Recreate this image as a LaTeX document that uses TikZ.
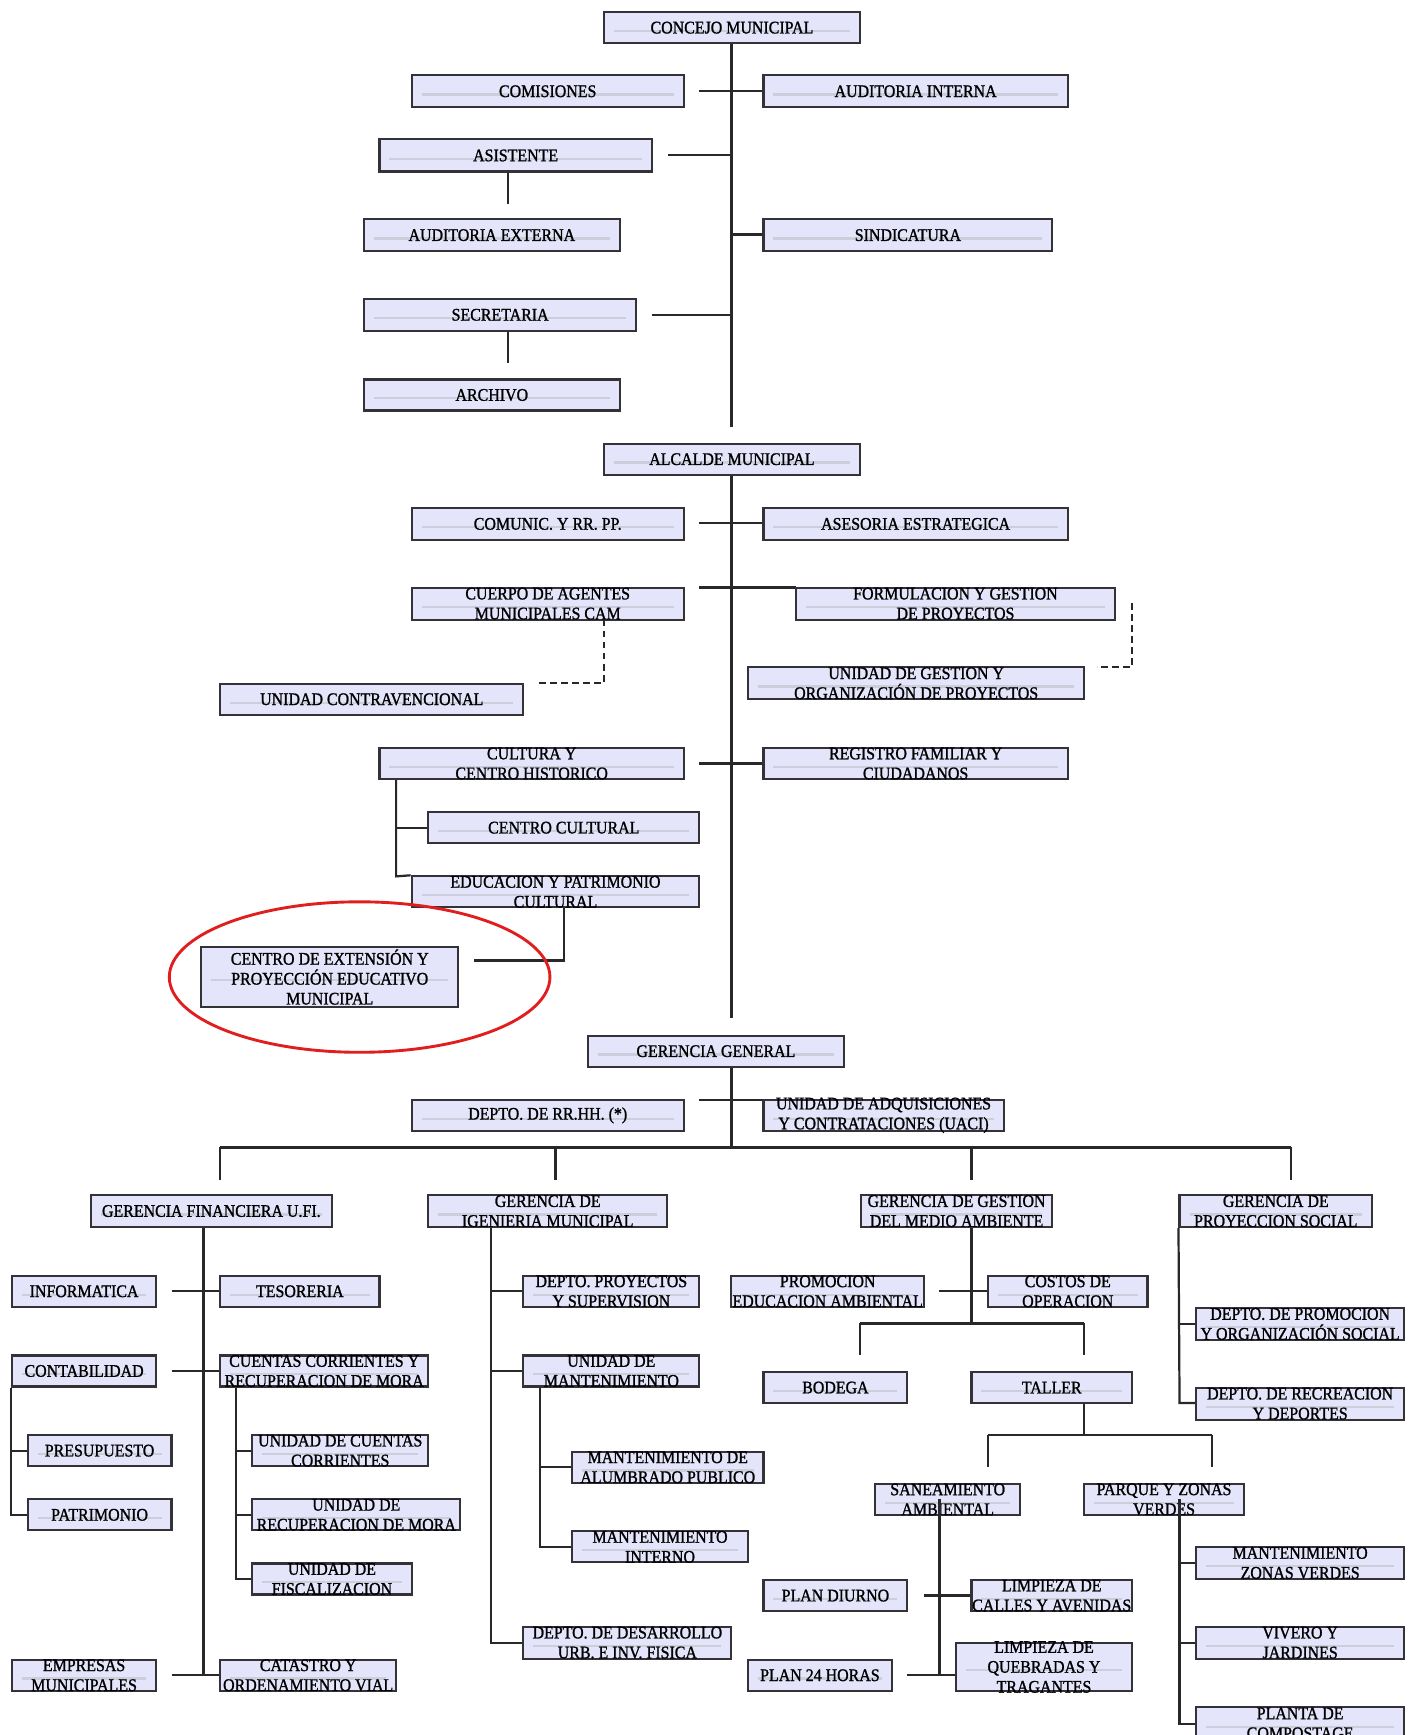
\documentclass[tikz,border=0pt]{standalone}
\usepackage{fontspec}
\newfontfamily\orgfont[FakeStretch=0.9,FakeBold=1.2]{Liberation Serif}
\definecolor{boxfill}{RGB}{228,228,250}
\definecolor{boxline}{RGB}{50,50,55}
\definecolor{stripe}{RGB}{205,205,220}
\definecolor{lnc}{RGB}{40,40,40}
\definecolor{ovalred}{RGB}{225,30,30}
\tikzset{
  box/.style={draw=boxline, line width=1.9pt, fill=boxfill, inner sep=0pt,
    path picture={\draw[stripe, line width=2pt]
      ([xshift=9pt,yshift=-3pt]path picture bounding box.west) --
      ([xshift=-9pt,yshift=-3pt]path picture bounding box.east);}},
  txt/.style={inner sep=0pt, align=center, text=black,
    font=\orgfont\fontsize{16}{18}\selectfont},
  ln/.style={draw=lnc, line width=2pt},
  dln/.style={ln, dash pattern=on 6pt off 4pt}
}
\newcommand{\orgbox}[6]{%
  \node[box, minimum width={(#4-#2)*1pt}, minimum height={(#5-#3)*1pt}] (#1) at ({(#2+#4)/2},{(#3+#5)/2}) {};
  \node[txt] (#1t) at (#1.center) {#6};}
\begin{document}
\begin{tikzpicture}[x=1pt,y=-1pt]
\useasboundingbox (0,0) rectangle (1282,1568);
\fill[white] (0,0) rectangle (1282,1568);
\clip (0,0) rectangle (1282,1568);

% ---------- coordinates for free ends / junctions ----------
\coordinate (m1) at (661,386);
\coordinate (j1) at (632,82);
\coordinate (j2) at (604,140);
\coordinate (j3) at (459,184);
\coordinate (j4) at (589,285);
\coordinate (j5) at (459,328);
\coordinate (m2) at (661,920);
\coordinate (k1) at (632,473);
\coordinate (k2) at (632,531);
\coordinate (k3) at (546,617);
\coordinate (k4) at (487,617);
\coordinate (k5) at (1023,545);
\coordinate (k6) at (1023,603);
\coordinate (k7) at (991,603);
\coordinate (k8) at (632,690);
\coordinate (k9) at (358,792);
\coordinate (k10) at (510,868);
\coordinate (k11) at (428,868);
\coordinate (b0) at (661,1037);
\coordinate (n1) at (632,994);
\coordinate (bL) at (199,1037);
\coordinate (bR) at (1167,1037);
\coordinate (d1) at (199,1066);
\coordinate (d2) at (502,1066);
\coordinate (d3) at (878,1066);
\coordinate (d4) at (1167,1066);
\coordinate (f0) at (184,1514);
\coordinate (f1) at (155,1167);
\coordinate (f2) at (155,1239);
\coordinate (f3) at (155,1514);
\coordinate (f4) at (213,1427);
\coordinate (e0) at (444,1485);
\coordinate (e1) at (488,1398);
\coordinate (a0) at (878,1196);
\coordinate (a1) at (849,1167);
\coordinate (a2) at (777,1196);
\coordinate (a3) at (980,1196);
\coordinate (a4) at (777,1225);
\coordinate (a5) at (980,1225);
\coordinate (t1) at (980,1297);
\coordinate (t2) at (893,1297);
\coordinate (t3) at (1095,1297);
\coordinate (t4) at (893,1326);
\coordinate (t5) at (1095,1326);
\coordinate (s0) at (849,1514);
\coordinate (s1) at (835,1442);
\coordinate (s2) at (820,1514);
\coordinate (p0) at (1066,1558);
\coordinate (q0) at (1066,1268);

% ---------- connectors (drawn first, boxes on top) ----------
\draw[ln] (661,39) coordinate (c0) -- (m1);
\draw[ln] (j1) -- (690,82) coordinate (c1);
\draw[ln] (j2) -- (j2 -| m1);
\draw[ln] (j4) -- (j4 -| m1);
\draw[ln] (661,212) coordinate (c2) -- (690,212) coordinate (c3);
\draw[ln] (661,429) coordinate (c4) -- (m2);
\draw[ln] (k1) -- (690,473) coordinate (c5);
\draw[ln] (k2) -- (719,531) coordinate (c6);
\draw[ln] (k8) -- (690,690) coordinate (c7);
\draw[dln] (546,560) coordinate (c8) -- (k3) -- (k4);
\draw[dln] (k5) -- (k6) -- (k7);
\draw[ln] (661,964) coordinate (c9) -- (b0);
\draw[ln] (n1) -- (690,994) coordinate (c10);
\draw[ln] (bL) -- (bR);
\draw[ln] (bL) -- (d1);
\draw[ln] (d2 |- bL) -- (d2);
\draw[ln] (d3 |- bL) -- (d3);
\draw[ln] (bR) -- (d4);

% ---------- boxes ----------
\orgbox{concejo}{546}{11}{777}{39}{CONCEJO MUNICIPAL}
\orgbox{comis}{372}{68}{618}{97}{COMISIONES}
\orgbox{audint}{690}{68}{965}{97}{AUDITORIA INTERNA}
\orgbox{asist}{343}{126}{589}{155}{ASISTENTE}
\orgbox{audext}{329}{198}{560}{227}{AUDITORIA EXTERNA}
\orgbox{sindic}{690}{198}{951}{227}{SINDICATURA}
\orgbox{secre}{329}{270}{575}{299}{SECRETARIA}
\orgbox{archivo}{329}{343}{560}{371}{ARCHIVO}
\orgbox{alcalde}{546}{401}{777}{429}{ALCALDE MUNICIPAL}
\orgbox{comunic}{372}{459}{618}{488}{COMUNIC. Y RR. PP.}
\orgbox{asesoria}{690}{459}{965}{488}{ASESORIA ESTRATEGICA}
\orgbox{cuerpo}{372}{531}{618}{560}{CUERPO DE AGENTES\\MUNICIPALES CAM}
\orgbox{formul}{719}{531}{1008}{560}{FORMULACION Y GESTION\\DE PROYECTOS}
\orgbox{contrav}{199}{618}{473}{646}{UNIDAD CONTRAVENCIONAL}
\orgbox{ugestion}{676}{603}{980}{632}{UNIDAD DE GESTION Y\\ORGANIZACIÓN DE PROYECTOS}
\orgbox{cultura}{343}{676}{618}{704}{CULTURA Y\\CENTRO HISTORICO}
\orgbox{registro}{690}{676}{965}{704}{REGISTRO FAMILIAR Y\\CIUDADANOS}
\orgbox{ccultural}{387}{734}{632}{762}{CENTRO CULTURAL}
\orgbox{educ}{372}{792}{632}{820}{EDUCACION Y PATRIMONIO\\CULTURAL}
\orgbox{cext}{182}{856}{414}{910}{CENTRO DE EXTENSIÓN Y\\PROYECCIÓN EDUCATIVO\\MUNICIPAL}
\orgbox{gergen}{531}{936}{763}{964}{GERENCIA GENERAL}
\orgbox{rrhh}{372}{994}{618}{1022}{DEPTO. DE RR.HH. (*)}
\orgbox{uaci}{690}{994}{907}{1022}{UNIDAD DE ADQUISICIONES\\Y CONTRATACIONES (UACI)}
\orgbox{gfin}{82}{1080}{300}{1109}{GERENCIA FINANCIERA U.FI.}
\orgbox{ging}{387}{1080}{603}{1109}{GERENCIA DE\\IGENIERIA MUNICIPAL}
\orgbox{gamb}{778}{1080}{951}{1109}{GERENCIA DE GESTION\\DEL MEDIO AMBIENTE}
\orgbox{gsoc}{1066}{1080}{1240}{1109}{GERENCIA DE\\PROYECCION SOCIAL}
\orgbox{inform}{11}{1153}{141}{1181}{INFORMATICA}
\orgbox{tesor}{199}{1153}{343}{1181}{TESORERIA}
\orgbox{contab}{11}{1225}{141}{1253}{CONTABILIDAD}
\orgbox{cuentas}{199}{1225}{387}{1253}{CUENTAS CORRIENTES Y\\RECUPERACION DE MORA}
\orgbox{presup}{25}{1297}{155}{1325}{PRESUPUESTO}
\orgbox{patrim}{25}{1355}{155}{1383}{PATRIMONIO}
\orgbox{ucc}{228}{1297}{387}{1325}{UNIDAD DE CUENTAS\\CORRIENTES}
\orgbox{urm}{228}{1355}{416}{1383}{UNIDAD DE\\RECUPERACION DE MORA}
\orgbox{ufisc}{228}{1413}{372}{1441}{UNIDAD DE\\FISCALIZACION}
\orgbox{empresas}{11}{1500}{141}{1528}{EMPRESAS\\MUNICIPALES}
\orgbox{catastro}{199}{1500}{358}{1528}{CATASTRO Y\\ORDENAMIENTO VIAL}
\orgbox{proyec}{473}{1153}{632}{1181}{DEPTO. PROYECTOS\\Y SUPERVISION}
\orgbox{umant}{473}{1225}{632}{1253}{UNIDAD DE\\MANTENIMIENTO}
\orgbox{malum}{517}{1312}{690}{1340}{MANTENIMIENTO DE\\ALUMBRADO PUBLICO}
\orgbox{mint}{517}{1384}{676}{1412}{MANTENIMIENTO\\INTERNO}
\orgbox{desarr}{473}{1470}{661}{1499}{DEPTO. DE DESARROLLO\\URB. E INV. FISICA}
\orgbox{promamb}{661}{1153}{835}{1181}{PROMOCION\\EDUCACION AMBIENTAL}
\orgbox{costos}{893}{1153}{1037}{1181}{COSTOS DE\\OPERACION}
\orgbox{bodega}{690}{1240}{820}{1268}{BODEGA}
\orgbox{taller}{878}{1240}{1023}{1268}{TALLER}
\orgbox{sanea}{791}{1341}{922}{1369}{SANEAMIENTO\\AMBIENTAL}
\orgbox{parque}{980}{1341}{1124}{1369}{PARQUE Y ZONAS\\VERDES}
\orgbox{diurno}{690}{1428}{820}{1456}{PLAN DIURNO}
\orgbox{lcalles}{878}{1428}{1023}{1456}{LIMPIEZA DE\\CALLES Y AVENIDAS}
\orgbox{plan24}{676}{1500}{806}{1528}{PLAN 24 HORAS}
\orgbox{lquebr}{864}{1485}{1023}{1528}{LIMPIEZA DE\\QUEBRADAS Y\\TRAGANTES}
\orgbox{promsoc}{1081}{1182}{1269}{1211}{DEPTO. DE PROMOCION\\Y ORGANIZACIÓN SOCIAL}
\orgbox{recre}{1081}{1254}{1269}{1283}{DEPTO. DE RECREACION\\Y DEPORTES}
\orgbox{mzv}{1081}{1398}{1269}{1427}{MANTENIMIENTO\\ZONAS VERDES}
\orgbox{vivero}{1081}{1470}{1269}{1499}{VIVERO Y\\JARDINES}
\orgbox{planta}{1081}{1543}{1269}{1572}{PLANTA DE\\COMPOSTAGE}

% ---------- connectors from boxes ----------
\draw[ln] (asist.south -| j3) -- (j3);
\draw[ln] (secre.south -| j5) -- (j5);
\draw[ln] (cultura.south -| k9) -- (k9) -- (educ.north west);
\draw[ln] (ccultural.west -| k9) -- (ccultural.west);
\draw[ln] (educ.south -| k10) -- (k10) -- (k11);
% finance
\draw[ln] (gfin.south -| f0) -- (f0) -- (catastro.west |- f0);
\draw[ln] (f1) -- (tesor.west);
\draw[ln] (f2) -- (cuentas.west);
\draw[ln] (f3) -- (f0);
\draw[ln] (contab.south west) -- (patrim.west -| contab.south west) -- (patrim.west);
\draw[ln] (presup.west -| contab.south west) -- (presup.west);
\draw[ln] (cuentas.south -| f4) -- (f4) -- (ufisc.west |- f4);
\draw[ln] (ucc.west -| f4) -- (ucc.west);
\draw[ln] (urm.west -| f4) -- (urm.west);
% engineering
\draw[ln] (ging.south -| e0) -- (e0) -- (desarr.west |- e0);
\draw[ln] (proyec.west -| e0) -- (proyec.west);
\draw[ln] (umant.west -| e0) -- (umant.west);
\draw[ln] (umant.south -| e1) -- (e1) -- (mint.west |- e1);
\draw[ln] (malum.west -| e1) -- (malum.west);
% environment
\draw[ln] (gamb.south -| a0) -- (a0);
\draw[ln] (a1) -- (costos.west);
\draw[ln] (a2) -- (a3);
\draw[ln] (a2) -- (a4);
\draw[ln] (a3) -- (a5);
\draw[ln] (taller.south -| t1) -- (t1);
\draw[ln] (t2) -- (t3);
\draw[ln] (t2) -- (t4);
\draw[ln] (t3) -- (t5);
\draw[ln] (sanea.center -| s0) -- (s0) -- (lquebr.west |- s0);
\draw[ln] (s1) -- (lcalles.west);
\draw[ln] (s2) -- (s0);
% parks
\draw[ln] (parque.center -| p0) -- (p0) -- (planta.west |- p0);
\draw[ln] (mzv.west -| p0) -- (mzv.west);
\draw[ln] (vivero.west -| p0) -- (vivero.west);
% social
\draw[ln] (gsoc.south west) -- (q0) -- (recre.west |- q0);
\draw[ln] (promsoc.west -| q0) -- (promsoc.west);

% ---------- highlight ----------
\draw[ovalred, line width=2.6pt] (325,883) ellipse [x radius=172pt, y radius=68pt];
\end{tikzpicture}
\end{document}
